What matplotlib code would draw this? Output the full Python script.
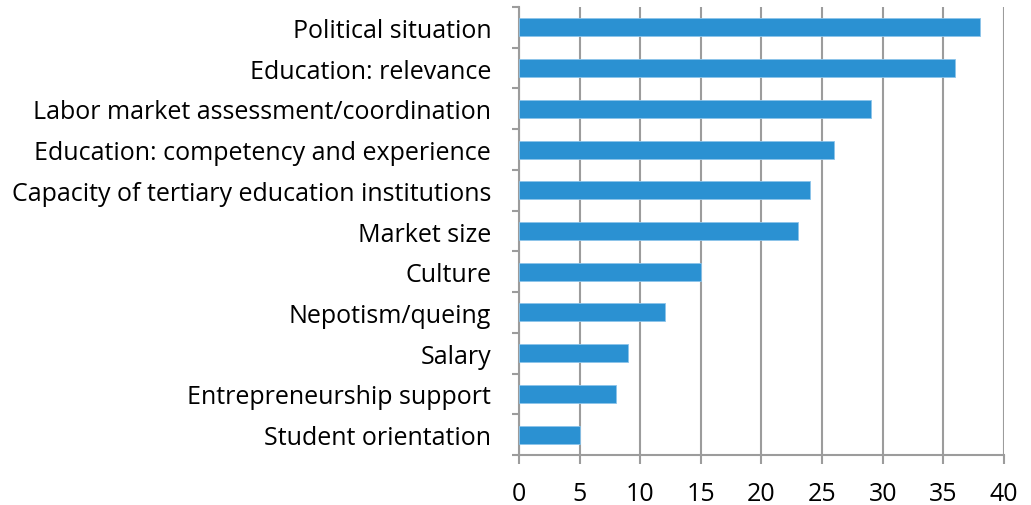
import matplotlib
matplotlib.use("Agg")
import matplotlib.pyplot as plt
import numpy as np

categories = [
    "Political situation",
    "Education: relevance",
    "Labor market assessment/coordination",
    "Education: competency and experience",
    "Capacity of tertiary education institutions",
    "Market size",
    "Culture",
    "Nepotism/queing",
    "Salary",
    "Entrepreneurship support",
    "Student orientation",
]
values = [38, 36, 29, 26, 24, 23, 15, 12, 9, 8, 5]
x_ticks = [0, 5, 10, 15, 20, 25, 30, 35, 40]

plt.rcParams['font.family'] = ['Open Sans', 'DejaVu Sans']
FS = 18

fig = plt.figure(figsize=(10.31, 5.06), dpi=100)
ax = fig.add_axes([0.5034, 0.0988, 0.4704, 0.8854])

n = len(categories)
pos = np.arange(n)[::-1]
ax.barh(pos, values, height=0.44, color="#2b91d2", edgecolor="#8cc4ea",
        linewidth=0.6, zorder=3)

grid_c = "#9c9c9c"
ax.set_xlim(0, 40)
ax.set_ylim(-0.5, n - 0.5)
ax.set_xticks(x_ticks)
ax.set_xticklabels([str(t) for t in x_ticks], fontsize=FS)
ax.xaxis.grid(True, color=grid_c, linewidth=1.5, zorder=0)
ax.tick_params(axis='x', length=6.5, width=1.5, color=grid_c, pad=12)

ax.set_yticks(pos)
ax.set_yticklabels(categories, fontsize=FS)
ax.tick_params(axis='y', which='major', length=0, pad=20)
ax.set_yticks(np.arange(-0.5, n, 1.0), minor=True)
ax.tick_params(axis='y', which='minor', length=5, width=1.5, color=grid_c)

for s in ['top', 'right']:
    ax.spines[s].set_visible(False)
for s in ['left', 'bottom']:
    ax.spines[s].set_color(grid_c)
    ax.spines[s].set_linewidth(1.5)

fig.savefig("out.png", dpi=100)
